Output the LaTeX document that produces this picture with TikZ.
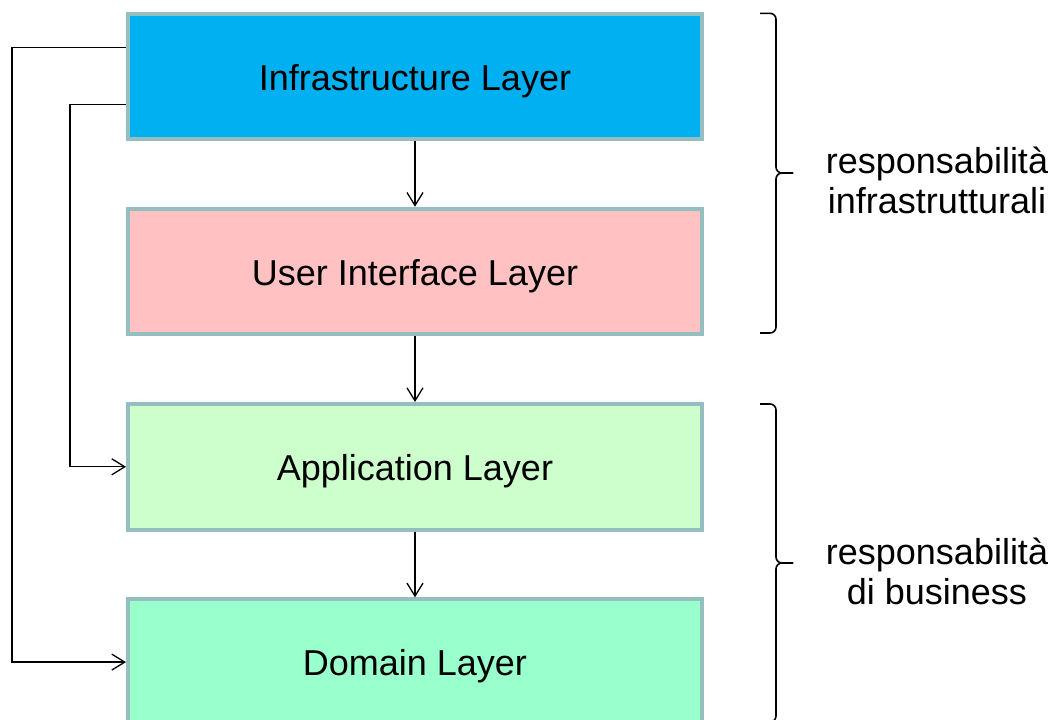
\documentclass[tikz,border=0pt]{standalone}
\usepackage{fontspec}
\setmainfont{Liberation Sans}
\usetikzlibrary{arrows.meta}
\definecolor{infrafill}{HTML}{00B0F0}
\definecolor{uifill}{HTML}{FFC1C1}
\definecolor{appfill}{HTML}{CCFFCC}
\definecolor{domfill}{HTML}{99FFCC}
\definecolor{layeredge}{HTML}{95BEC0}
\tikzset{
  layer/.style={draw=layeredge, line width=4pt, minimum width=574pt,
    minimum height=125.5pt, inner sep=0pt, text height=27.5pt, text depth=0pt,
    font=\fontsize{36}{40}\selectfont},
  conn/.style={line width=1.3pt, -{Straight Barb[length=13pt,width=16pt]}},
  brace/.style={line width=1.6pt, rounded corners=6pt},
  note/.style={align=center, font=\fontsize{36}{40}\selectfont}
}
\begin{document}
\begin{tikzpicture}[x=1pt, y=-1pt]
\useasboundingbox (0,0) rectangle (1061,720);

% the four stacked layers
\node[layer, fill=infrafill] (infra) at (415,76.25) {Infrastructure Layer};
\node[layer, fill=uifill]    (ui)    at (415,271.5) {User Interface Layer};
\node[layer, fill=appfill]   (app)   at (415,466.8) {Application Layer};
\node[layer, fill=domfill]   (dom)   at (415,662.1) {Domain Layer};

% dependencies between neighbouring layers
\draw[conn] (infra) -- (ui);
\draw[conn] (ui) -- (app);
\draw[conn] (app) -- (dom);

% infrastructure reaching the lower layers directly
\coordinate (outerrail) at (12,0);
\coordinate (innerrail) at (70,0);
\coordinate (s1) at ([yshift=29pt]infra.west);
\coordinate (s2) at ([yshift=-28.5pt]infra.west);
\draw[conn] (s1) -- (s1 -| outerrail) |- (dom.west);
\draw[conn] (s2) -- (s2 -| innerrail) |- (app.west);

% grouping braces
\coordinate (t1) at (793,173);
\coordinate (t2) at (793,563);
\draw[brace] (760,13.3) -- (776,13.3) -- (776,173) -- (t1);
\draw[brace] (t1) -- (776,173) -- (776,333) -- (760,333);
\draw[brace] (760,404) -- (776,404) -- (776,563) -- (t2);
\draw[brace] (t2) -- (776,563) -- (776,722) -- (760,722);

\node[note] (n1) at (937,180) {responsabilità\\infrastrutturali};
\node[note] (n2) at (937,571) {responsabilità\\di business};
\end{tikzpicture}
\end{document}
